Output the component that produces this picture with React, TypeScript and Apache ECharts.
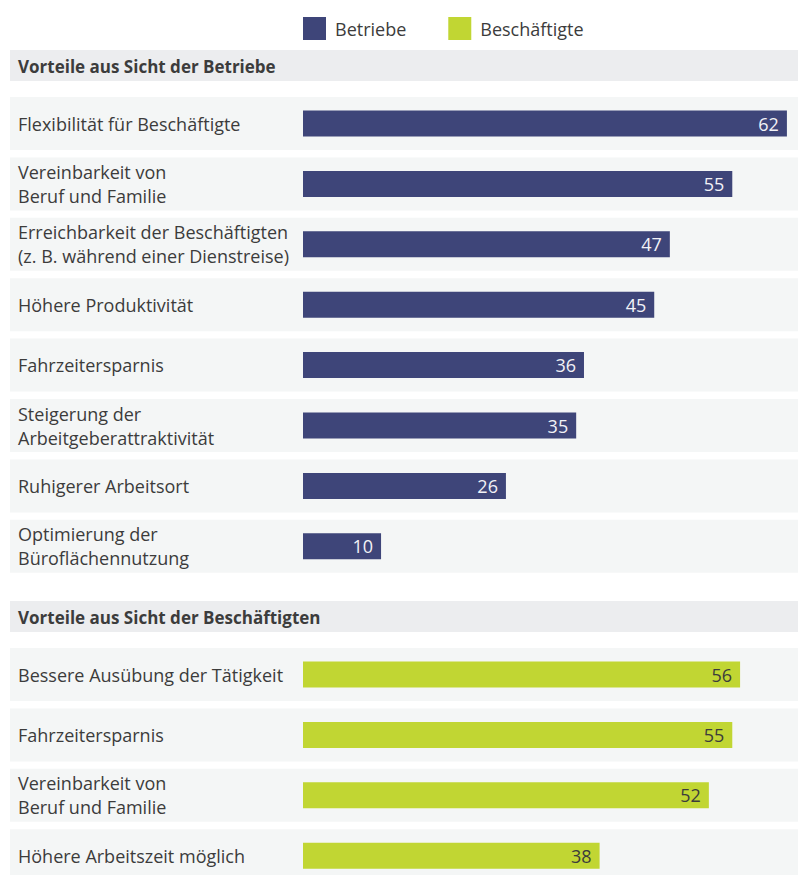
import React, { useEffect, useRef } from "react";
import * as echarts from "echarts";

const legendNames = ["Betriebe", "Beschäftigte"];
const headerTitles = ["Vorteile aus Sicht der Betriebe", "Vorteile aus Sicht der Beschäftigten"];

const betriebeLabels = [
  "Flexibilität für Beschäftigte",
  "Vereinbarkeit von\nBeruf und Familie",
  "Erreichbarkeit der Beschäftigten\n(z. B. während einer Dienstreise)",
  "Höhere Produktivität",
  "Fahrzeitersparnis",
  "Steigerung der\nArbeitgeberattraktivität",
  "Ruhigerer Arbeitsort",
  "Optimierung der\nBüroflächennutzung",
];
const betriebeValues = [62, 55, 47, 45, 36, 35, 26, 10];

const beschLabels = [
  "Bessere Ausübung der Tätigkeit",
  "Fahrzeitersparnis",
  "Vereinbarkeit von\nBeruf und Familie",
  "Höhere Arbeitszeit möglich",
];
const beschValues = [56, 55, 52, 38];

const FONT = "'Open Sans', 'Noto Sans', sans-serif";
const FS = 18;
const FS_BOLD = 17;
const TEXT = "#3c3c3c";
const BLUE = "#3e4579";
const GREEN = "#c1d633";
const ROW_BG = "#f4f6f6";
const HEAD_BG = "#ecedef";

export default function App() {
  const ref = useRef<HTMLDivElement>(null);
  useEffect(() => {
    if (!ref.current) return;
    const chart = echarts.init(ref.current, undefined, { renderer: "svg" });
    const pitch = 60.4;
    const g1Top = 123.5 - pitch / 2;
    const g2Top = 674.5 - pitch / 2;
    const xMin = -37.54;
    const xMax = 63.42;

    const bgRender = (params: any, api: any) => {
      const c = api.coord([0, api.value(1)]);
      const band = api.size([0, 1])[1];
      const h = band * 0.877;
      const cs = params.coordSys;
      return {
        type: "rect",
        shape: { x: cs.x, y: c[1] - h / 2, width: cs.width, height: h },
        style: { fill: ROW_BG },
      };
    };

    const yAxisBase = (data: string[], gridIndex: number) => ({
      type: "category",
      gridIndex,
      data,
      inverse: true,
      axisLine: { show: false },
      axisTick: { show: false },
      splitLine: { show: false },
      axisLabel: {
        inside: true,
        margin: 8,
        align: "left",
        fontFamily: FONT,
        fontSize: FS,
        lineHeight: 24,
        color: TEXT,
      },
      z: 5,
    });

    const xAxisBase = (gridIndex: number) => ({
      type: "value",
      gridIndex,
      min: xMin,
      max: xMax,
      show: false,
      splitLine: { show: false },
    });

    chart.setOption({
      animation: false,
      textStyle: { fontFamily: FONT },
      legend: {
        data: legendNames,
        left: 303,
        top: 17,
        padding: 0,
        itemWidth: 23,
        itemHeight: 23,
        itemGap: 42,
        icon: "rect",
        textStyle: { fontFamily: FONT, fontSize: FS, color: TEXT, padding: [0, 0, 0, 4] },
        selectedMode: false,
      },
      grid: [
        { left: 10, right: 0, top: g1Top, height: pitch * betriebeLabels.length },
        { left: 10, right: 0, top: g2Top, height: pitch * beschLabels.length },
      ],
      xAxis: [xAxisBase(0), xAxisBase(1)],
      yAxis: [yAxisBase(betriebeLabels, 0), yAxisBase(beschLabels, 1)],
      graphic: [
        {
          type: "rect",
          shape: { x: 10, y: 50, width: 788, height: 31 },
          style: { fill: HEAD_BG },
          z: 0,
        },
        {
          type: "text",
          x: 18,
          y: 66,
          style: {
            text: headerTitles[0],
            fontFamily: FONT,
            fontSize: FS_BOLD,
            fontWeight: "bold",
            fill: TEXT,
            verticalAlign: "middle",
          },
        },
        {
          type: "rect",
          shape: { x: 10, y: 601, width: 788, height: 31 },
          style: { fill: HEAD_BG },
          z: 0,
        },
        {
          type: "text",
          x: 18,
          y: 617,
          style: {
            text: headerTitles[1],
            fontFamily: FONT,
            fontSize: FS_BOLD,
            fontWeight: "bold",
            fill: TEXT,
            verticalAlign: "middle",
          },
        },
      ],
      series: [
        {
          type: "custom",
          name: "bg1",
          xAxisIndex: 0,
          yAxisIndex: 0,
          renderItem: bgRender,
          data: betriebeLabels.map((_, i) => [0, i]),
          encode: { x: 0, y: 1 },
          z: 1,
          silent: true,
        },
        {
          type: "custom",
          name: "bg2",
          xAxisIndex: 1,
          yAxisIndex: 1,
          renderItem: bgRender,
          data: beschLabels.map((_, i) => [0, i]),
          encode: { x: 0, y: 1 },
          z: 1,
          silent: true,
        },
        {
          type: "bar",
          name: legendNames[0],
          xAxisIndex: 0,
          yAxisIndex: 0,
          data: betriebeValues,
          barWidth: 26,
          itemStyle: { color: BLUE },
          label: {
            show: true,
            position: "insideRight",
            distance: 8,
            color: "#f2f2f6",
            fontFamily: FONT,
            fontSize: FS,
          },
          z: 3,
        },
        {
          type: "bar",
          name: legendNames[1],
          xAxisIndex: 1,
          yAxisIndex: 1,
          data: beschValues,
          barWidth: 26,
          itemStyle: { color: GREEN },
          label: {
            show: true,
            position: "insideRight",
            distance: 8,
            color: TEXT,
            fontFamily: FONT,
            fontSize: FS,
          },
          z: 3,
        },
      ],
    });
    return () => chart.dispose();
  }, []);
  return (
    <div style={{ position: "absolute", left: 0, top: 0, width: 798, height: 875, overflow: "hidden" }}>
      <div ref={ref} style={{ width: 798, height: 900 }} />
    </div>
  );
}
